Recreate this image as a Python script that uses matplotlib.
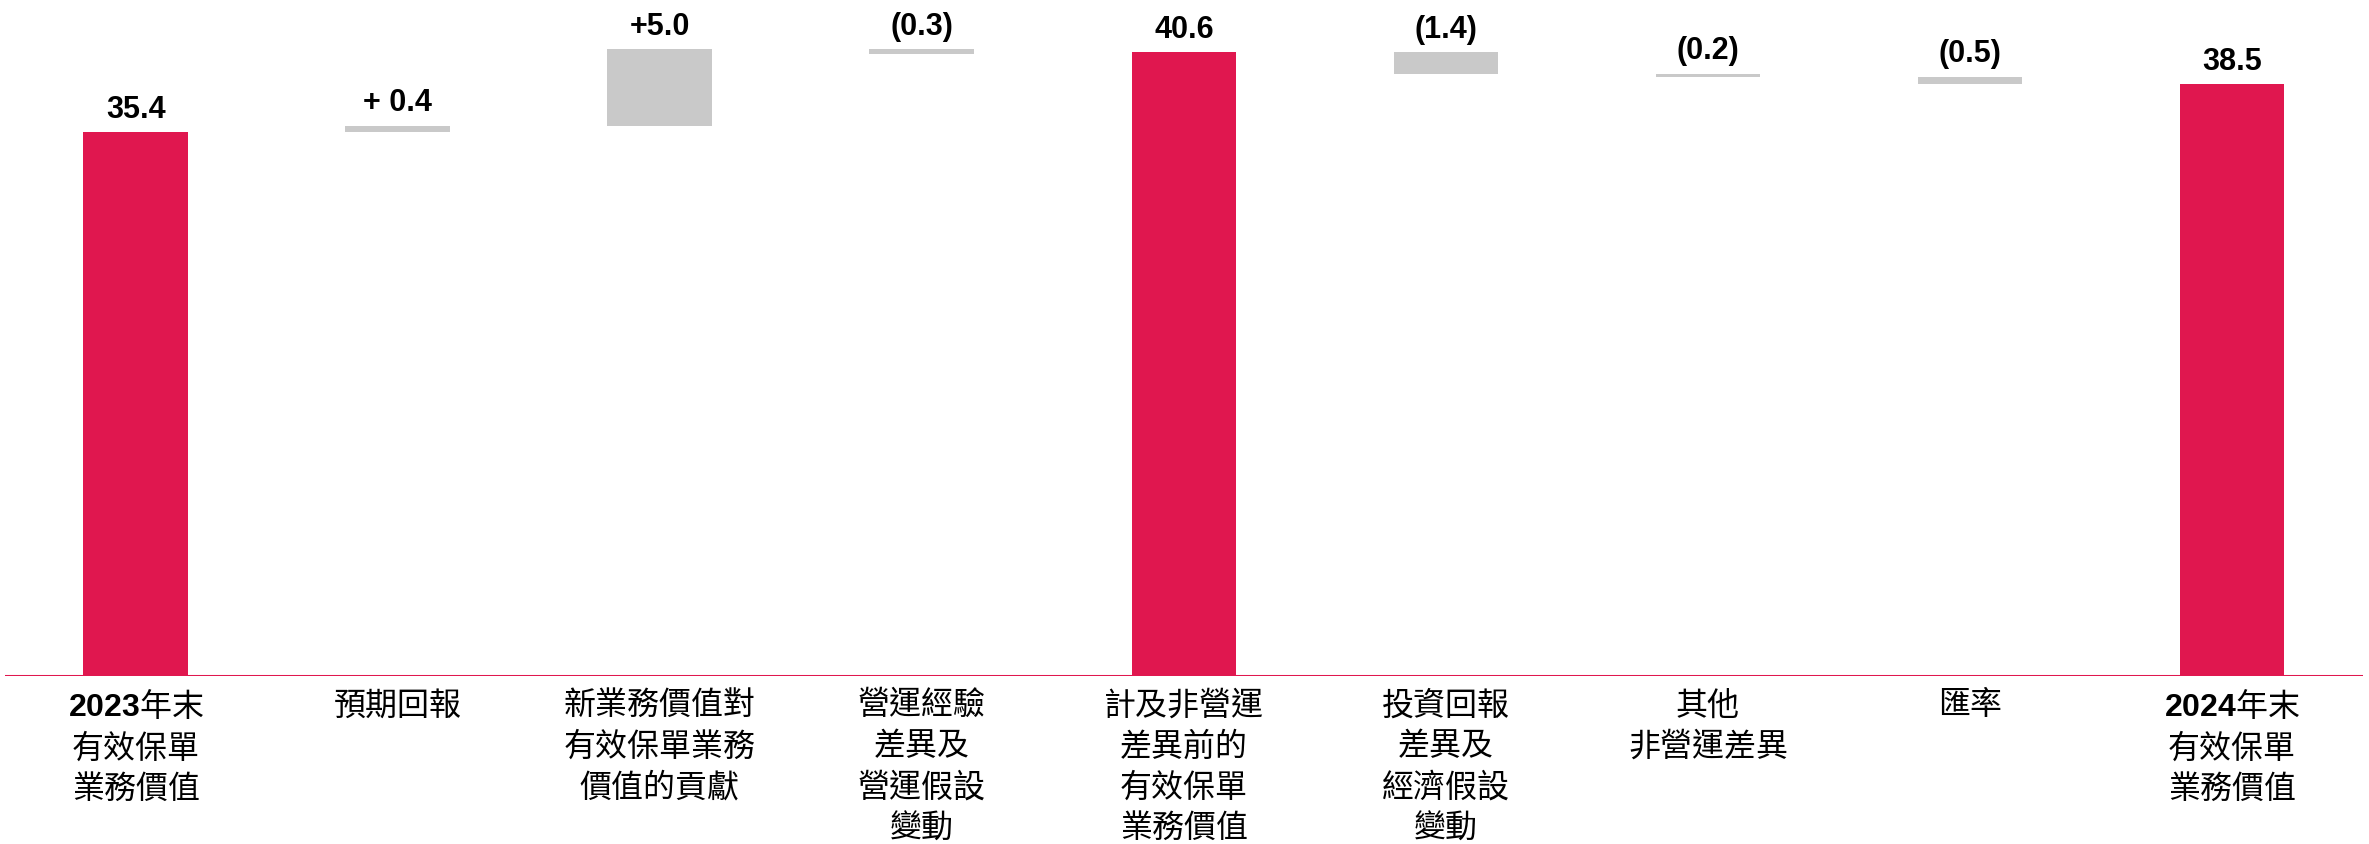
import matplotlib.pyplot as plt

plt.rcParams['font.family'] = ['Noto Sans CJK TC', 'DejaVu Sans']
plt.rcParams['mathtext.fontset'] = 'custom'
plt.rcParams['mathtext.bf'] = 'Liberation Sans:bold'
plt.rcParams['mathtext.rm'] = 'Liberation Sans'

# waterfall data (HK$ bn)
categories = [
    '$\\mathbf{2023}$年末\n有效保單\n業務價值',
    '預期回報',
    '新業務價值對\n有效保單業務\n價值的貢獻',
    '營運經驗\n差異及\n營運假設\n變動',
    '計及非營運\n差異前的\n有效保單\n業務價值',
    '投資回報\n差異及\n經濟假設\n變動',
    '其他\n非營運差異',
    '匯率',
    '$\\mathbf{2024}$年末\n有效保單\n業務價值',
]
values = [35.4, 0.4, 5.0, -0.3, 40.6, -1.4, -0.2, -0.5, 38.5]
is_total = [True, False, False, False, True, False, False, False, True]
value_labels = ['35.4', '+ 0.4', '+5.0', '(0.3)', '40.6', '(1.4)', '(0.2)', '(0.5)', '38.5']

red = '#E0174F'
grey = '#C9C9C9'

fig = plt.figure(figsize=(23.69, 8.45), dpi=100)
ax = fig.add_axes([0.002, 0.199, 0.9955, 0.801])

running = 0
for i, (v, tot) in enumerate(zip(values, is_total)):
    if tot:
        bottom, height, top = 0, v, v
        running = v
        color = red
    else:
        bottom = running if v > 0 else running + v
        height = abs(v)
        running += v
        top = bottom + height
        color = grey
    ax.bar(i, height, bottom=bottom, width=0.4, color=color, linewidth=0)
    ax.annotate(value_labels[i], (i, top), xytext=(0, 6), textcoords='offset points',
                ha='center', va='bottom', fontsize=22, fontweight='bold',
                family=['Liberation Sans', 'DejaVu Sans'])
    ax.annotate(categories[i], (i, 0), xytext=(0, -9), textcoords='offset points',
                ha='center', va='top', fontsize=23, linespacing=1.36,
                multialignment='center')

ax.axhline(0, color=red, lw=2.2)
ax.set_xlim(-0.5, 8.5)
ax.set_ylim(0, 44.05)
ax.axis('off')

fig.savefig('out.png', dpi=100)
